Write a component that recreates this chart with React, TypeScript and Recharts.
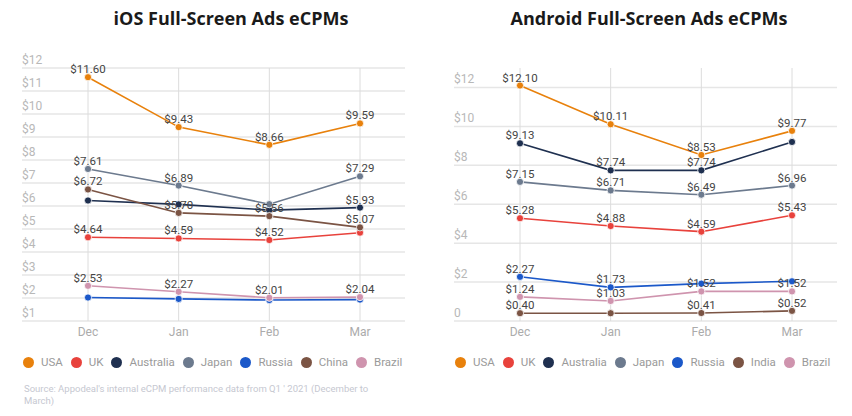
import React from "react";
import { LineChart, Line, XAxis, YAxis, CartesianGrid, LabelList, Legend } from "recharts";

const months = ["Dec", "Jan", "Feb", "Mar"];

// iOS values ($ eCPM)
const iosUSA = [11.6, 9.43, 8.66, 9.59];
const iosUK = [4.64, 4.59, 4.52, 4.84];
const iosAustralia = [6.24, 6.07, 5.82, 5.93];
const iosJapan = [7.61, 6.89, 6.08, 7.29];
const iosRussia = [2.02, 1.96, 1.91, 1.93];
const iosChina = [6.72, 5.7, 5.56, 5.07];
const iosBrazil = [2.53, 2.27, 2.01, 2.04];

// Android values ($ eCPM)
const andUSA = [12.1, 10.11, 8.53, 9.77];
const andUK = [5.28, 4.88, 4.59, 5.43];
const andAustralia = [9.13, 7.74, 7.74, 9.2];
const andJapan = [7.15, 6.71, 6.49, 6.96];
const andRussia = [2.27, 1.73, 1.92, 2.04];
const andIndia = [0.4, 0.4, 0.41, 0.52];
const andBrazil = [1.24, 1.03, 1.52, 1.52];

// which points carry a value label (1 = shown)
const iosShow = {
  USA: [1, 1, 1, 1],
  UK: [1, 1, 1, 0],
  Australia: [0, 0, 0, 1],
  Japan: [1, 1, 0, 1],
  Russia: [0, 0, 0, 0],
  China: [1, 1, 1, 1],
  Brazil: [1, 1, 1, 1],
};
const andShow = {
  USA: [1, 1, 1, 1],
  UK: [1, 1, 1, 1],
  Australia: [1, 1, 1, 0],
  Japan: [1, 1, 1, 1],
  Russia: [1, 1, 0, 0],
  India: [1, 0, 1, 1],
  Brazil: [1, 1, 1, 1],
};

const iosTicks = [1, 2, 3, 4, 5, 6, 7, 8, 9, 10, 11, 12];
const andTicks = [0, 2, 4, 6, 8, 10, 12];

const COLORS: Record<string, string> = {
  USA: "#e8810c",
  UK: "#e8423c",
  Australia: "#1f3050",
  Japan: "#6c7a8e",
  Russia: "#1b58c9",
  China: "#7b5444",
  India: "#7b5444",
  Brazil: "#cf94ae",
};

const FONT = "Roboto, 'Open Sans', sans-serif";

type Series = { name: string; values: number[]; show: number[] };

const iosSeries: Series[] = [
  { name: "USA", values: iosUSA, show: iosShow.USA },
  { name: "UK", values: iosUK, show: iosShow.UK },
  { name: "Australia", values: iosAustralia, show: iosShow.Australia },
  { name: "Japan", values: iosJapan, show: iosShow.Japan },
  { name: "Russia", values: iosRussia, show: iosShow.Russia },
  { name: "China", values: iosChina, show: iosShow.China },
  { name: "Brazil", values: iosBrazil, show: iosShow.Brazil },
];

const andSeries: Series[] = [
  { name: "USA", values: andUSA, show: andShow.USA },
  { name: "UK", values: andUK, show: andShow.UK },
  { name: "Australia", values: andAustralia, show: andShow.Australia },
  { name: "Japan", values: andJapan, show: andShow.Japan },
  { name: "Russia", values: andRussia, show: andShow.Russia },
  { name: "India", values: andIndia, show: andShow.India },
  { name: "Brazil", values: andBrazil, show: andShow.Brazil },
];

const buildRows = (series: Series[]) =>
  months.map((m, i) => {
    const row: Record<string, any> = { month: m };
    series.forEach((s) => (row[s.name] = s.values[i]));
    return row;
  });

const makeLabel = (show: number[]) => (props: any) => {
  const { index, value } = props;
  const x = props.x ?? props.viewBox?.x;
  const y = props.y ?? props.viewBox?.y;
  if (!show[index]) return null;
  return (
    <text x={x} y={y - 4} textAnchor="middle" fill="#444" fontSize={11.5} fontFamily={FONT}>
      {`$${Number(value).toFixed(2)}`}
    </text>
  );
};

// tick labels sit just above their grid line, left-aligned at the plot edge
const YTick = ({ x, y, payload }: any) => (
  <text x={x} y={y - 4} textAnchor="start" fill="#b8b8b8" fontSize={12} fontFamily={FONT}>
    {payload.value === 0 ? "0" : `$${payload.value}`}
  </text>
);

const LegendContent = ({ payload, order }: any) => {
  const items = [...(payload || [])].sort(
    (a: any, b: any) => order.indexOf(a.value) - order.indexOf(b.value)
  );
  return (
    <div style={{ display: "flex", alignItems: "center", fontFamily: FONT, fontSize: 11.5, color: "#9a9a9a" }}>
      {items.map((p: any) => (
        <div key={p.value} style={{ display: "flex", alignItems: "center", marginRight: 8 }}>
          <span
            style={{ width: 11, height: 11, borderRadius: "50%", background: p.color, marginRight: 7, display: "inline-block" }}
          />
          <span>{p.value}</span>
        </div>
      ))}
    </div>
  );
};

function EcpmChart({ series, ticks, domain }: { series: Series[]; ticks: number[]; domain: [number, number] }) {
  const data = buildRows(series);
  const order = series.map((s) => s.name);
  return (
    <LineChart width={420} height={380} data={data} margin={{ top: 68, right: 15, bottom: 35, left: 0 }}>
      <CartesianGrid vertical={false} syncWithTicks stroke="#e6e6e6" strokeWidth={1.5} />
      <CartesianGrid horizontal={false} syncWithTicks stroke="#dcdcdc" strokeWidth={1} />
      <XAxis
        dataKey="month"
        height={24}
        interval={0}
        padding={{ left: 66, right: 45 }}
        axisLine={false}
        tickLine={false}
        tickSize={0}
        tickMargin={6}
        tick={{ fill: "#ababab", fontSize: 12, fontFamily: FONT }}
      />
      <YAxis
        type="number"
        domain={domain}
        ticks={ticks}
        interval={0}
        width={22}
        axisLine={false}
        tickLine={false}
        tickSize={0}
        tickMargin={0}
        tick={<YTick />}
      />
      <Legend
        layout="horizontal"
        verticalAlign="middle"
        align="center"
        content={<LegendContent order={order} />}
        wrapperStyle={{ top: 355, left: 23, width: 400 }}
      />
      {series.map((s) => (
        <Line
          key={s.name}
          dataKey={s.name}
          name={s.name}
          type="linear"
          stroke={COLORS[s.name]}
          strokeWidth={1.6}
          dot={{ r: 3.6, fill: COLORS[s.name], stroke: "#fff", strokeWidth: 0.8 }}
          isAnimationActive={false}
        >
          <LabelList dataKey={s.name} content={makeLabel(s.show)} />
        </Line>
      ))}
    </LineChart>
  );
}

export default function App() {
  const titleStyle: React.CSSProperties = {
    position: "absolute",
    top: 6,
    width: 420,
    textAlign: "center",
    fontFamily: "'Open Sans', sans-serif",
    fontWeight: 700,
    fontSize: 18,
    color: "#1a1a1a",
  };
  return (
    <div style={{ position: "absolute", top: 0, left: 0, width: 852, height: 416, background: "#fff", overflow: "hidden" }}>
      <div style={{ ...titleStyle, left: 21 }}>iOS Full-Screen Ads eCPMs</div>
      <div style={{ ...titleStyle, left: 439 }}>Android Full-Screen Ads eCPMs</div>
      <div style={{ position: "absolute", top: 0, left: 0 }}>
        <EcpmChart series={iosSeries} ticks={iosTicks} domain={[1, 12]} />
      </div>
      <div style={{ position: "absolute", top: 0, left: 432 }}>
        <EcpmChart series={andSeries} ticks={andTicks} domain={[0, 13]} />
      </div>
      <div
        style={{
          position: "absolute",
          top: 383,
          left: 24,
          width: 370,
          fontFamily: FONT,
          fontSize: 9.5,
          lineHeight: "12px",
          color: "#c6c8d1",
        }}
      >
        Source: Appodeal's internal eCPM performance data from Q1 ' 2021 (December to March)
      </div>
    </div>
  );
}
